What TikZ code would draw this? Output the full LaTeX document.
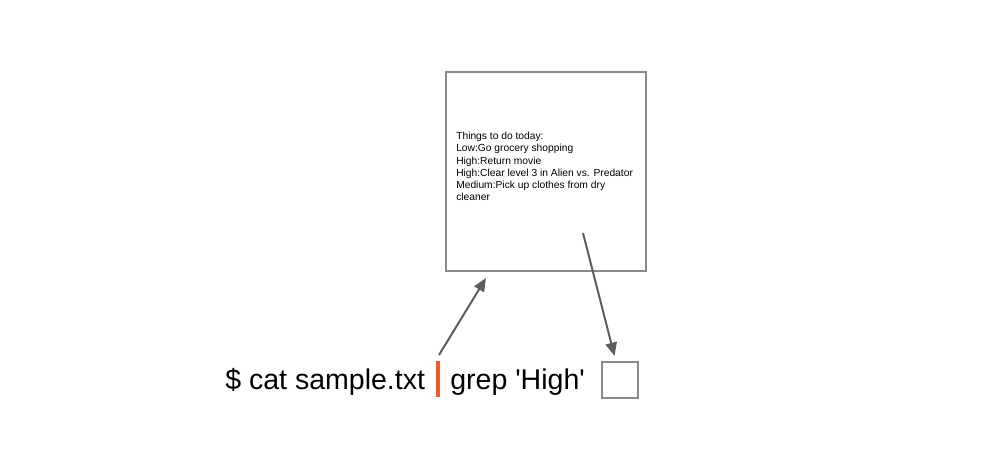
\documentclass[tikz,border=0pt]{standalone}
\usepackage{fontspec}
\setmainfont{Liberation Sans}
\usepackage{tikz}
\usetikzlibrary{arrows.meta}
\usetikzlibrary{positioning}
\definecolor{boxgray}{HTML}{8A8A8A}
\definecolor{arrowgray}{HTML}{5E5E5E}
\definecolor{pipeorange}{HTML}{F15A29}

\begin{document}
\begin{tikzpicture}[x=0.75pt, y=-0.75pt,
    filebox/.style={draw=boxgray, line width=1.5pt, inner sep=0},
    flow/.style={draw=arrowgray, line width=1.5pt, -{Triangle[length=10pt,width=8.5pt]}},
    cmd/.style={anchor=base west, inner sep=0, font=\fontsize{21.4}{24}\selectfont}]
  \useasboundingbox (0,0) rectangle (1008,472);

  %the file
  \node[filebox, minimum width=150pt, minimum height=149pt] (file) at (546,171.5) {};
  \node[anchor=north west, inner sep=0, align=left, font=\fontsize{7.7}{9.15}\selectfont] (lines) at (456,132)
    {Things to do today:\\Low:Go grocery shopping\\High:Return movie\\High:Clear level 3 in Alien vs. Predator\\Medium:Pick up clothes from dry\\cleaner};

  %the command line
  \node[cmd] (cat) at (225,389) {\$ cat sample.txt};
  \node[fill=pipeorange, minimum width=3pt, minimum height=27pt, inner sep=0] (pipe) at (437.5,379) {};
  \node[cmd] (grep) at (450,389) {grep \textquotesingle High\textquotesingle};
  \node[filebox, minimum size=27pt] (out) at (620,380) {};

  %arrows
  \coordinate (up) at (439,355);
  \coordinate (in) at (486,278);
  \coordinate (grab) at (583,233);
  \coordinate (down) at (614.5,356);
  \draw[flow] (up) -- (in);
  \draw[flow] (grab) -- (down);
\end{tikzpicture}
\end{document}
